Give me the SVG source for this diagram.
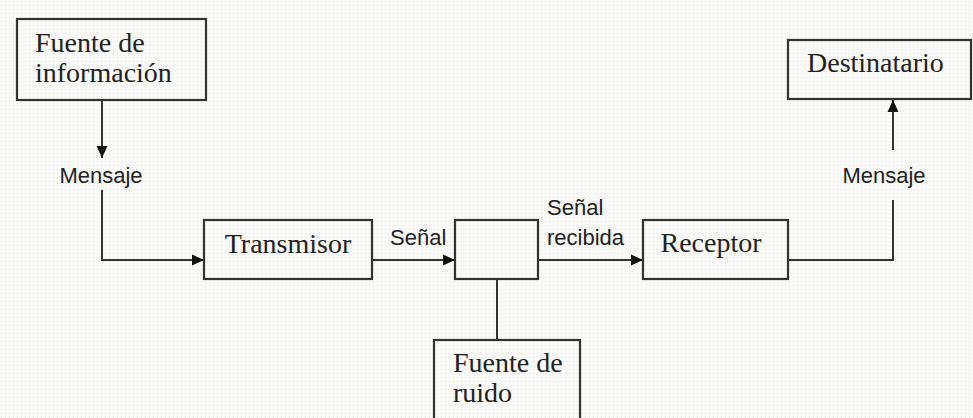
<svg xmlns="http://www.w3.org/2000/svg" width="973" height="418" viewBox="0 0 973 418">
<defs>
<pattern id="dots" width="4" height="4" patternUnits="userSpaceOnUse">
<rect width="4" height="4" fill="#f9f9f7"/>
<rect x="1" y="1" width="1" height="1" fill="#e6e6e2"/>
</pattern>
<marker id="arr" viewBox="0 0 12 12" refX="12" refY="6" markerWidth="12" markerHeight="12" markerUnits="userSpaceOnUse" orient="auto">
<path d="M0,0.5 L12,6 L0,11.5 Z" fill="#111"/>
</marker>
<style>
.box{fill:none;stroke:#333;stroke-width:2.2}
.st{font-family:"Liberation Serif","Times New Roman",serif;font-size:28px;fill:#222}
.ss{font-family:"Liberation Sans",Arial,sans-serif;font-size:22px;fill:#222}
.ln{fill:none;stroke:#333;stroke-width:2}
</style>
</defs>
<rect width="973" height="418" fill="url(#dots)"/>
<g id="connectors">
<line class="ln" x1="102" y1="100" x2="102" y2="158" marker-end="url(#arr)"/>
<polyline class="ln" points="102,190 102,260 204,260" marker-end="url(#arr)"/>
<line class="ln" x1="372" y1="260" x2="455" y2="260" marker-end="url(#arr)"/>
<line class="ln" x1="538" y1="260" x2="643" y2="260" marker-end="url(#arr)"/>
<line class="ln" x1="497" y1="279" x2="497" y2="340"/>
<polyline class="ln" points="788,260 893,260 893,200"/>
<line class="ln" x1="893" y1="150" x2="893" y2="100" marker-end="url(#arr)"/>
<text class="ss" x="101" y="183" text-anchor="middle">Mensaje</text>
<text class="ss" x="390" y="245">Señal</text>
<text class="ss" x="547" y="215">Señal</text>
<text class="ss" x="547" y="245">recibida</text>
<text class="ss" x="884" y="183" text-anchor="middle">Mensaje</text>
</g>
<g id="fuente-informacion">
<rect class="box" x="17" y="19" width="189" height="81"/>
<text class="st" x="35" y="52">Fuente de</text>
<text class="st" x="35" y="82">información</text>
</g>
<g id="transmisor">
<rect class="box" x="204" y="220" width="168" height="59"/>
<text class="st" x="288" y="253" text-anchor="middle">Transmisor</text>
</g>
<g id="canal">
<rect class="box" x="455" y="220" width="83" height="59"/>
</g>
<g id="receptor">
<rect class="box" x="643" y="220" width="145" height="59"/>
<text class="st" x="711" y="252" text-anchor="middle">Receptor</text>
</g>
<g id="destinatario">
<rect class="box" x="788" y="40" width="183" height="59"/>
<text class="st" x="807" y="72">Destinatario</text>
</g>
<g id="fuente-ruido">
<rect class="box" x="434" y="340" width="146" height="90"/>
<text class="st" x="453" y="372">Fuente de</text>
<text class="st" x="453" y="402">ruido</text>
</g>
</svg>
